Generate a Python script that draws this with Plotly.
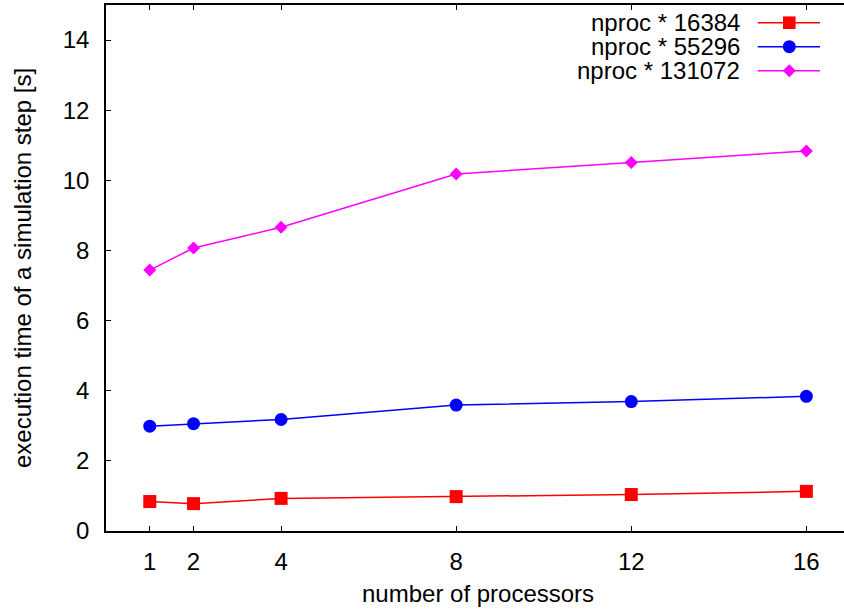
import plotly.graph_objects as go

processors = [1, 2, 4, 8, 12, 16]
series_names = ["nproc * 16384", "nproc * 55296", "nproc * 131072"]
t_16384 = [0.84, 0.78, 0.93, 0.98, 1.04, 1.13]
t_55296 = [2.99, 3.06, 3.18, 3.59, 3.69, 3.84]
t_131072 = [7.44, 8.07, 8.66, 10.18, 10.51, 10.84]
x_ticks = [1, 2, 4, 8, 12, 16]
y_ticks = [0, 2, 4, 6, 8, 10, 12, 14]

colors = ["#ff0000", "#0000ff", "#ff00ff"]
symbols = ["square", "circle", "diamond"]
sizes = [13, 13, 10]
series = [t_16384, t_55296, t_131072]

FONT = "Liberation Sans, Arial, sans-serif"
W, H = 844, 612
ML, MR, MT, MB = 106, 0, 5, 81
PW, PH = W - ML - MR, H - MT - MB

fig = go.Figure()
for name, ys, c, s, sz in zip(series_names, series, colors, symbols, sizes):
    fig.add_trace(go.Scatter(
        x=processors, y=ys, name=name, mode="lines+markers",
        line=dict(color=c, width=1.5),
        marker=dict(symbol=s, size=sz, color=c, line=dict(width=0)),
        showlegend=False,
    ))

def px_x(px):
    return (px - ML) / PW

def px_y(py):
    return (H - MB - py) / PH

annotations = []
shapes = []
legend_rows = [22.7, 46.7, 70.7]
text_right = 742
line_x0, line_x1, mark_x = 757.7, 820, 789.3
for name, c, s, yrow in zip(series_names, colors, symbols, legend_rows):
    annotations.append(dict(
        x=px_x(text_right), y=px_y(yrow), xref="paper", yref="paper",
        text=name, showarrow=False, xanchor="right", yanchor="middle",
        font=dict(family=FONT, size=24, color="#000000"),
    ))
    shapes.append(dict(type="line", xref="paper", yref="paper",
                       x0=px_x(line_x0), x1=px_x(line_x1),
                       y0=px_y(yrow), y1=px_y(yrow),
                       line=dict(color=c, width=1.5)))
    common = dict(xref="paper", yref="paper", xsizemode="pixel", ysizemode="pixel",
                  xanchor=px_x(mark_x), yanchor=px_y(yrow),
                  fillcolor=c, line=dict(width=0))
    if s == "square":
        shapes.append(dict(type="rect", x0=-6.3, x1=6.3, y0=-6.3, y1=6.3, **common))
    elif s == "circle":
        shapes.append(dict(type="circle", x0=-6.5, x1=6.5, y0=-6.5, y1=6.5, **common))
    else:
        shapes.append(dict(type="path", path="M -6.5 0 L 0 6.5 L 6.5 0 L 0 -6.5 Z", **common))

annotations.append(dict(
    x=px_x(22), y=0.5, xref="paper", yref="paper",
    text="execution time of a simulation step [s]", showarrow=False,
    textangle=-90, xanchor="center", yanchor="middle",
    font=dict(family=FONT, size=24, color="#000000"),
))
annotations.append(dict(
    x=px_x(478), y=px_y(593), xref="paper", yref="paper",
    text="number of processors", showarrow=False,
    xanchor="center", yanchor="middle",
    font=dict(family=FONT, size=24, color="#000000"),
))

fig.update_layout(
    width=W, height=H,
    margin=dict(l=ML, r=MR, t=MT, b=MB, pad=0),
    paper_bgcolor="white", plot_bgcolor="white",
    font=dict(family=FONT, size=24, color="#000000"),
    annotations=annotations, shapes=shapes,
    showlegend=False,
)
fig.update_xaxes(
    range=[0, 16.86], tickvals=x_ticks, ticktext=[str(v) for v in x_ticks],
    showgrid=False, zeroline=False, showline=True, linecolor="#000000", linewidth=1.5,
    mirror="ticks", ticks="inside", ticklen=5, tickwidth=1, tickcolor="#000000",
    ticklabelstandoff=8,
)
fig.update_yaxes(
    range=[0, 15], tickvals=y_ticks, ticktext=[str(v) for v in y_ticks],
    showgrid=False, zeroline=False, showline=True, linecolor="#000000", linewidth=1.5,
    mirror=False, ticks="inside", ticklen=5, tickwidth=1, tickcolor="#000000",
    ticklabelstandoff=10,
)

fig.write_html(
    "out.html",
    config={"displayModeBar": False},
    post_script="document.body.style.margin='0';document.body.style.overflow='hidden';",
)
